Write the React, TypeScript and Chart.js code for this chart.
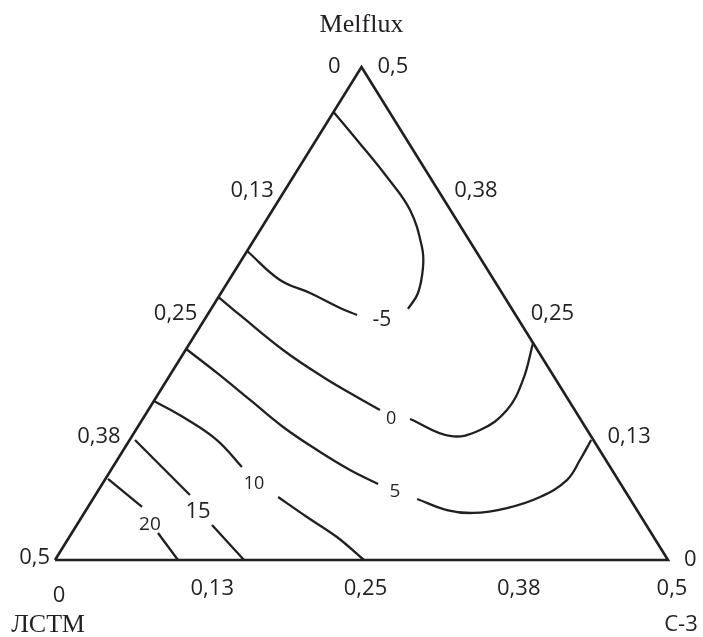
import React, { useEffect, useRef } from "react";
import { Chart, registerables } from "chart.js";

Chart.register(...registerables);

// ---- Data (ternary fractions; the three components sum to 0.5) ----
// Each point is [C-3 fraction, Melflux fraction]; ЛСТМ = 0.5 - C-3 - Melflux
const AXIS_MAX = 0.5;
const tickValues = [0, 0.125, 0.25, 0.375, 0.5];
const c3TickLabels = ["0", "0,13", "0,25", "0,38", "0,5"];
const melfluxTickLabels = ["0", "0,13", "0,25", "0,38", "0,5"];
const lstmTickLabels = ["0,5", "0,38", "0,25", "0,13", "0"];

const triangle = [[0, 0], [0.5, 0], [0, 0.5], [0, 0]];

const contourM5a = [[0, 0.4544], [0.0333, 0.426], [0.0766, 0.3884], [0.1121, 0.355], [0.1406, 0.3174], [0.1516, 0.2972], [0.1607, 0.2708], [0.1606, 0.2546]];
const contourM5b = [[0, 0.3134], [0.0415, 0.284], [0.0726, 0.2708], [0.1047, 0.2556], [0.1221, 0.2485]];
const contour0a = [[0, 0.2667], [0.028, 0.2475], [0.0795, 0.213], [0.1258, 0.1856], [0.1636, 0.1653], [0.189, 0.1521]];
const contour0b = [[0.2181, 0.143], [0.2593, 0.1258], [0.2808, 0.1318], [0.2926, 0.1521], [0.2904, 0.1826], [0.2799, 0.2201]];
const contour5a = [[0, 0.214], [0.0373, 0.1897], [0.078, 0.1623], [0.1186, 0.1349], [0.1579, 0.1116], [0.195, 0.0913], [0.225, 0.0771]];
const contour5b = [[0.2644, 0.0619], [0.2943, 0.0507], [0.3171, 0.0477], [0.3423, 0.0527], [0.3637, 0.0639], [0.377, 0.0811], [0.3775, 0.1014], [0.3765, 0.1217]];
const contour10a = [[0, 0.1613], [0.0319, 0.145], [0.0712, 0.1217], [0.1053, 0.0943]];
const contour10b = [[0.15, 0.0639], [0.1837, 0.0436], [0.2183, 0.0233], [0.252, 0]];
const contour15a = [[0.0044, 0.1217], [0.0771, 0.0659]];
const contour15b = [[0.1103, 0.0355], [0.1542, 0]];
const contour20a = [[0.0021, 0.0822], [0.0441, 0.0538]];
const contour20b = [[0.0703, 0.0274], [0.1003, 0]];

const contourLevels = ["-5", "0", "5", "10", "15", "20"];
const contourLabelAt = [[0.145, 0.2434], [0.2026, 0.143], [0.2428, 0.069], [0.1238, 0.0771], [0.0923, 0.0487], [0.0597, 0.0355]];
const contourLabelSize = [21, 18, 19, 18, 22, 19];

const INK = "#231f20";
const SANS = "'Open Sans', 'Liberation Sans', sans-serif";
const SERIF = "'Liberation Serif', 'DejaVu Serif', serif";

const toXY = (p: number[]) => ({ x: p[0] + p[1] / 2, y: p[1] });

const textPlugin = {
  id: "ternaryText",
  afterDatasetsDraw(chart: any) {
    const ctx = chart.ctx as CanvasRenderingContext2D;
    const xs = chart.scales.x;
    const ys = chart.scales.y;
    const P = (c: number, m: number) => [xs.getPixelForValue(c + m / 2), ys.getPixelForValue(m)];
    ctx.save();
    ctx.fillStyle = INK;
    ctx.textBaseline = "middle";

    // bottom axis (C-3)
    ctx.font = `22px ${SANS}`;
    ctx.textAlign = "center";
    tickValues.forEach((v, i) => {
      const [px, py] = P(v, 0);
      ctx.fillText(c3TickLabels[i], px + 4, py + (i === 0 ? 36 : 29));
    });
    // right side (Melflux)
    ctx.textAlign = "left";
    tickValues.forEach((v, i) => {
      const [px, py] = P(AXIS_MAX - v, v);
      ctx.fillText(melfluxTickLabels[i], px + 16, py);
    });
    // left side (ЛСТМ)
    ctx.textAlign = "right";
    tickValues.forEach((v, i) => {
      const [px, py] = P(0, v);
      const off = i === 0 ? 5 : i === 4 ? 21 : 11;
      ctx.fillText(lstmTickLabels[i], px - off, py - (i === 0 ? 2 : 0));
    });

    // contour labels
    ctx.textAlign = "center";
    contourLevels.forEach((lab, i) => {
      const [px, py] = P(contourLabelAt[i][0], contourLabelAt[i][1]);
      ctx.font = `${contourLabelSize[i]}px ${SANS}`;
      ctx.fillText(lab, px, py);
    });

    // component titles
    const [ax, ay] = P(0, AXIS_MAX);
    const [lx, ly] = P(0, 0);
    const [rx, ry] = P(AXIS_MAX, 0);
    ctx.font = `26px ${SERIF}`;
    ctx.textAlign = "center";
    ctx.fillText("Melflux", ax, ay - 42);
    ctx.fillText("ЛСТМ", lx - 7, ly + 65);
    ctx.font = `22px ${SANS}`;
    ctx.fillText("С-3", rx + 13, ry + 65);
    ctx.restore();
  },
};

export default function App() {
  const ref = useRef<HTMLCanvasElement>(null);
  useEffect(() => {
    if (!ref.current) return;
    const pieces = [contourM5a, contourM5b, contour0a, contour0b, contour5a, contour5b, contour10a, contour10b, contour15a, contour15b, contour20a, contour20b];
    const datasets: any[] = [
      {
        data: triangle.map(toXY),
        showLine: true,
        borderColor: INK,
        borderWidth: 2.6,
        pointRadius: 0,
        tension: 0,
        clip: false,
        borderJoinStyle: "miter",
      },
      ...pieces.map((p) => ({
        data: p.map(toXY),
        showLine: true,
        borderColor: INK,
        borderWidth: 2.3,
        pointRadius: 0,
        tension: 0.4,
        clip: false,
        borderCapStyle: "butt",
      })),
    ];
    const chart = new Chart(ref.current, {
      type: "scatter",
      data: { datasets },
      options: {
        animation: false,
        responsive: false,
        devicePixelRatio: 1,
        layout: { padding: { left: 55, right: 35, top: 67, bottom: 77 } },
        scales: {
          x: { type: "linear", min: 0, max: AXIS_MAX, display: false },
          y: { type: "linear", min: 0, max: AXIS_MAX, display: false },
        },
        plugins: { legend: { display: false }, tooltip: { enabled: false } },
        events: [],
      },
      plugins: [textPlugin],
    } as any);
    return () => chart.destroy();
  }, []);
  return (
    <div style={{ position: "fixed", left: 0, top: 0, width: 703, height: 637, background: "#fff" }}>
      <canvas ref={ref} width={703} height={637} style={{ display: "block" }} />
    </div>
  );
}
